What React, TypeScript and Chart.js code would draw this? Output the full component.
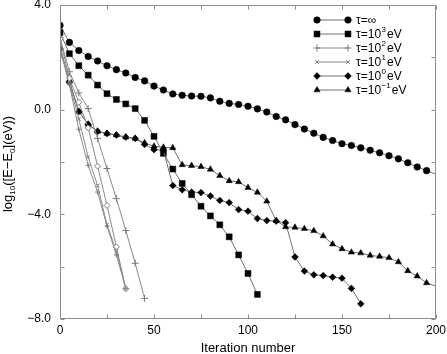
import React, { useEffect, useRef } from 'react';
import { Chart, registerables } from 'chart.js';
import { drawPoint } from 'chart.js/helpers';

Chart.register(...registerables);

const FONT = "'Liberation Sans', Arial, Helvetica, sans-serif";

// ---------- data (iteration number, log10 |E - E0| in eV) ----------
const infIter = [0,5,10,15,20,25,30,35,40,45,50,55,60,65,70,75,80,85,90,95,100,105,110,115,120,125,130,135,140,145,150,155,160,165,170,175,180,185,190,195,200];
const infVal = [3.22,2.57,2.26,2.03,1.86,1.68,1.53,1.40,1.23,1.10,0.90,0.75,0.60,0.55,0.52,0.51,0.45,0.32,0.24,0.20,0.13,0.03,-0.09,-0.26,-0.39,-0.57,-0.74,-0.90,-1.06,-1.18,-1.30,-1.37,-1.46,-1.55,-1.65,-1.76,-1.88,-2.03,-2.19,-2.33,-2.47];

const t3Iter = [0,5,10,15,20,25,30,35,40,45,50,55,60,65,70,75,80,85,90,95,100,105];
const t3Val = [2.95,2.14,1.68,1.32,0.94,0.61,0.39,0.22,0.04,-0.41,-1.02,-1.67,-2.27,-2.82,-3.25,-3.69,-4.06,-4.40,-4.86,-5.55,-6.26,-7.06];

const t2Iter = [0,5,10,15,20,25,30,35,40,45];
const t2Val = [2.75,1.45,0.64,0.04,-1.10,-2.25,-3.40,-4.62,-5.87,-7.21];

const t1Iter = [0,5,10,15,20,25,30,35];
const t1Val = [2.45,1.0,-0.36,-1.81,-2.90,-4.40,-5.41,-6.84];

const openIter = [0,5,10,15,20,25,30,35];
const openVal = [2.7,1.2,0.28,-0.70,-2.16,-3.66,-5.24,-6.84];

const extraIter = [0,5,10,15,20,25,30,35];
const extraVal = [2.35,0.95,-0.75,-2.13,-3.15,-4.45,-5.55,-6.84];

const t0Iter = [0,5,10,15,20,25,30,35,40,45,50,55,60,65,70,75,80,85,90,95,100,105,110,115,120,125,130,135,140,145,150,155,160];
const t0Val = [2.33,1.08,-0.07,-0.56,-0.83,-0.91,-0.97,-1.05,-1.10,-1.33,-1.53,-1.55,-2.90,-3.06,-3.15,-3.17,-3.30,-3.47,-3.55,-3.82,-3.88,-4.16,-4.24,-4.26,-4.32,-5.63,-6.17,-6.31,-6.34,-6.40,-6.44,-6.83,-7.42];

const tm1Iter = [0,5,10,15,20,25,30,35,40,45,50,55,60,65,70,75,80,85,90,95,100,105,110,115,120,125,130,135,140,145,150,155,160,165,170,175,180,185,190,195,200];
const tm1Val = [2.33,1.08,-0.07,-0.56,-0.83,-0.91,-0.97,-1.05,-1.10,-1.27,-1.40,-1.44,-1.46,-2.11,-2.14,-2.18,-2.28,-2.52,-2.72,-2.76,-2.98,-3.16,-3.50,-4.24,-4.48,-4.50,-4.55,-4.63,-4.83,-5.14,-5.32,-5.45,-5.48,-5.57,-5.61,-5.66,-5.82,-6.16,-6.36,-6.62,-6.75];

// legend text pieces
const legendBase = ['τ=∞', 'τ=10', 'τ=10', 'τ=10', 'τ=10', 'τ=10'];
const legendExp = ['', '3', '2', '1', '0', '−1'];
const legendUnit = ['', 'eV', 'eV', 'eV', 'eV', 'eV'];

// axis ticks
const xLabelStep = 50;
const yLabelStep = 4;
const xMarkValues = [0,25,50,75,100,125,150,175,200];
const yMarkValues = [-8,-6,-4,-2,0,2,4];

const xTitle = 'Iteration number';

// ---------- helpers ----------
const pts = (xs: number[], ys: number[]) => xs.map((x, i) => ({ x, y: ys[i] }));
const radii = (n: number, r: number, hideLast: boolean) =>
  Array.from({ length: n }, (_, i) => (hideLast && i === n - 1 ? 0 : r));

const LINE = '#707070';
const GREY = '#7a7a7a';

const decoPlugin = {
  id: 'deco',
  afterDraw(chart: any) {
    const { ctx, chartArea } = chart;
    const { left, right, top, bottom } = chartArea;
    const xs = chart.scales.x;
    const ys = chart.scales.y;
    ctx.save();
    // frame
    ctx.strokeStyle = '#8c8c8c';
    ctx.lineWidth = 1;
    const L = Math.round(left) + 0.5, R = Math.round(right) - 0.5;
    const T = Math.round(top) + 0.5, B = Math.round(bottom) - 0.5;
    ctx.beginPath();
    ctx.rect(L, T, R - L, B - T);
    ctx.stroke();
    // inward tick marks
    const tl = 4;
    ctx.beginPath();
    xMarkValues.forEach((v) => {
      const px = Math.round(xs.getPixelForValue(v)) + 0.5;
      ctx.moveTo(px, B); ctx.lineTo(px, B - tl);
      ctx.moveTo(px, T); ctx.lineTo(px, T + tl);
    });
    yMarkValues.forEach((v) => {
      const py = Math.round(ys.getPixelForValue(v)) + 0.5;
      ctx.moveTo(L, py); ctx.lineTo(L + tl, py);
      ctx.moveTo(R, py); ctx.lineTo(R - tl, py);
    });
    ctx.stroke();

    // x title
    ctx.fillStyle = '#000';
    ctx.font = `13px ${FONT}`;
    ctx.textAlign = 'center';
    ctx.textBaseline = 'alphabetic';
    ctx.fillText(xTitle, (left + right) / 2, 352);

    // y title (rotated) log10([E−E0](eV))
    ctx.save();
    ctx.translate(12, (top + bottom) / 2 + 2);
    ctx.rotate(-Math.PI / 2);
    const parts: [string, number, number][] = [
      ['log', 13, 0], ['10', 8, 3], ['([E−E', 13, 0], ['0', 8, 3], ['](eV))', 13, 0],
    ];
    let total = 0;
    parts.forEach(([t, s]) => { ctx.font = `${s}px ${FONT}`; total += ctx.measureText(t).width; });
    let cx = -total / 2;
    ctx.textAlign = 'left';
    parts.forEach(([t, s, dy]) => {
      ctx.font = `${s}px ${FONT}`;
      ctx.fillText(t, cx, dy);
      cx += ctx.measureText(t).width;
    });
    ctx.restore();

    // legend
    const entries = chart.data.datasets.filter((d: any) => d.legendIndex !== undefined);
    entries.sort((a: any, b: any) => a.legendIndex - b.legendIndex);
    const x0 = right - 119, x1 = right - 88, tx = right - 80;
    entries.forEach((d: any, i: number) => {
      const yy = top + 15 + i * 14;
      ctx.strokeStyle = d.borderColor;
      ctx.lineWidth = 1;
      ctx.beginPath();
      ctx.moveTo(x0, yy); ctx.lineTo(x1, yy);
      ctx.stroke();
      const r = Array.isArray(d.pointRadius) ? d.pointRadius[0] : d.pointRadius;
      [x0, x1].forEach((px) => {
        ctx.fillStyle = d.pointBackgroundColor;
        ctx.strokeStyle = d.pointBorderColor;
        ctx.lineWidth = d.pointBorderWidth;
        drawPoint(ctx, { pointStyle: d.pointStyle, radius: r, rotation: 0, borderWidth: d.pointBorderWidth }, px, yy);
      });
      const k = d.legendIndex;
      ctx.fillStyle = '#000';
      ctx.textAlign = 'left';
      ctx.textBaseline = 'middle';
      let lx = tx;
      ctx.font = `12px ${FONT}`;
      ctx.fillText(legendBase[k], lx, yy + 1);
      lx += ctx.measureText(legendBase[k]).width;
      if (legendExp[k]) {
        ctx.font = `8px ${FONT}`;
        ctx.fillText(legendExp[k], lx + 0.5, yy - 4);
        lx += ctx.measureText(legendExp[k]).width + 1.5;
        ctx.font = `12px ${FONT}`;
        ctx.fillText(legendUnit[k], lx, yy + 1);
      }
    });
    ctx.restore();
  },
};

const zeroPad = (s: any) => {
  s.paddingTop = 0; s.paddingBottom = 0; s.paddingLeft = 0; s.paddingRight = 0;
};

export default function App() {
  const ref = useRef<HTMLCanvasElement | null>(null);

  useEffect(() => {
    if (!ref.current) return;
    const common = { borderColor: LINE, borderWidth: 1, tension: 0, fill: false };
    const chart = new Chart(ref.current, {
      type: 'line',
      data: {
        datasets: [
          { ...common, label: 'extra', data: pts(extraIter, extraVal), pointStyle: 'cross', pointRadius: 2.5,
            pointBackgroundColor: GREY, pointBorderColor: GREY, pointBorderWidth: 1, borderColor: '#8a8a8a' },
          { ...common, label: 'open', data: pts(openIter, openVal), pointStyle: 'rectRot', pointRadius: 3,
            pointBackgroundColor: '#fff', pointBorderColor: GREY, pointBorderWidth: 1, borderColor: '#8a8a8a' },
          { ...common, legendIndex: 3, label: 't1', data: pts(t1Iter, t1Val), pointStyle: 'crossRot', pointRadius: 2.5,
            pointBackgroundColor: GREY, pointBorderColor: GREY, pointBorderWidth: 1, borderColor: '#8a8a8a' },
          { ...common, legendIndex: 2, label: 't2', data: pts(t2Iter, t2Val), pointStyle: 'cross', pointRadius: 3.5,
            pointBackgroundColor: GREY, pointBorderColor: GREY, pointBorderWidth: 1, borderColor: '#8a8a8a' },
          { ...common, legendIndex: 5, label: 'tm1', data: pts(tm1Iter, tm1Val), pointStyle: 'triangle',
            pointRadius: radii(tm1Iter.length, 3.6, true),
            pointBackgroundColor: '#000', pointBorderColor: '#000', pointBorderWidth: 0.5 },
          { ...common, legendIndex: 4, label: 't0', data: pts(t0Iter, t0Val), pointStyle: 'rectRot', pointRadius: 3.4,
            pointBackgroundColor: '#000', pointBorderColor: '#000', pointBorderWidth: 0.5 },
          { ...common, legendIndex: 1, label: 't3', data: pts(t3Iter, t3Val), pointStyle: 'rect', pointRadius: 4.2,
            pointBackgroundColor: '#000', pointBorderColor: '#000', pointBorderWidth: 0.5 },
          { ...common, legendIndex: 0, label: 'inf', data: pts(infIter, infVal), pointStyle: 'circle',
            pointRadius: radii(infIter.length, 3.3, true),
            pointBackgroundColor: '#000', pointBorderColor: '#000', pointBorderWidth: 0.5 },
        ] as any,
      },
      options: {
        animation: false,
        responsive: true,
        maintainAspectRatio: false,
        layout: { padding: { top: 5, right: 11, left: 0, bottom: 0 } },
        plugins: { legend: { display: false }, tooltip: { enabled: false } },
        elements: { point: { hoverRadius: 0 } },
        scales: {
          x: {
            type: 'linear', min: 0, max: 200,
            grid: { display: false, drawTicks: false },
            border: { display: false },
            ticks: { stepSize: xLabelStep, padding: 4, color: '#000', font: { family: FONT, size: 12 }, maxRotation: 0 },
            afterFit: (s: any) => { s.height = 35; zeroPad(s); },
          },
          y: {
            type: 'linear', min: -8, max: 4,
            grid: { display: false, drawTicks: false },
            border: { display: false },
            ticks: {
              stepSize: yLabelStep, padding: 9, color: '#000', font: { family: FONT, size: 12 },
              callback: (v: any) => (v < 0 ? '−' + Math.abs(v).toFixed(1) : Number(v).toFixed(1)),
            },
            afterFit: (s: any) => { s.width = 60; zeroPad(s); },
          },
        },
      } as any,
      plugins: [decoPlugin],
    });
    return () => chart.destroy();
  }, []);

  return (
    <div style={{ position: 'fixed', left: 0, top: 0, width: 447, height: 354, background: '#fff' }}>
      <canvas ref={ref} />
    </div>
  );
}
